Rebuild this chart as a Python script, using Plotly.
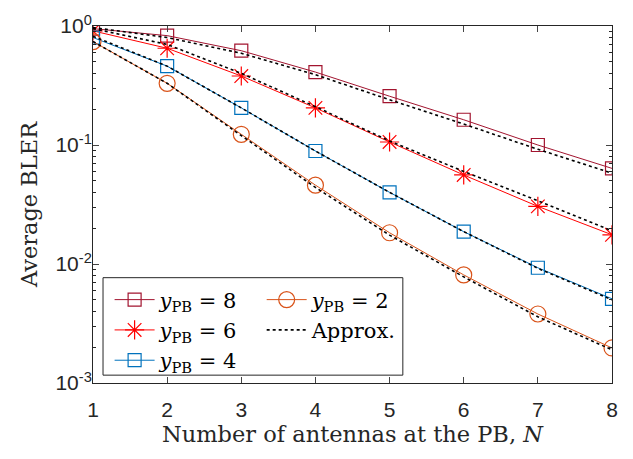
import plotly.graph_objects as go

N = [1, 2, 3, 4, 5, 6, 7, 8]
bler_y8 = [0.95, 0.83, 0.62, 0.41, 0.257, 0.163, 0.100, 0.0636]
bler_y6 = [0.91, 0.65, 0.38, 0.205, 0.106, 0.056, 0.0305, 0.0176]
bler_y4 = [0.80, 0.46, 0.205, 0.089, 0.040, 0.0187, 0.0093, 0.0051]
bler_y2 = [0.74, 0.33, 0.123, 0.046, 0.0183, 0.0081, 0.0038, 0.00197]
approx_y8 = [0.97, 0.80, 0.59, 0.39, 0.24, 0.150, 0.092, 0.058]
approx_y6 = [0.95, 0.70, 0.40, 0.21, 0.108, 0.060, 0.034, 0.019]
approx_y4 = [0.82, 0.46, 0.205, 0.089, 0.040, 0.0187, 0.0092, 0.0050]
approx_y2 = [0.74, 0.33, 0.120, 0.044, 0.0175, 0.0078, 0.0036, 0.0019]

ytick_vals = [1, 0.1, 0.01, 0.001]
ytick_text = ["10<sup>0</sup>", "10<sup>-1</sup>", "10<sup>-2</sup>", "10<sup>-3</sup>"]
minor_vals = [m * 10 ** e for e in (-3, -2, -1) for m in range(2, 10)]

C8, C6, C4, C2 = "#A2142F", "#FF0000", "#0072BD", "#D95319"
lab = lambda v: "<i>y</i><sub>PB</sub> = %d" % v

fig = go.Figure()
sty = dict(mode="lines+markers")
fig.add_trace(go.Scatter(x=N, y=bler_y8, name=lab(8), line=dict(color=C8, width=1),
                         marker=dict(symbol="square-open", size=13, color=C8, line=dict(width=1.2)),
                         legend="legend", **sty))
fig.add_trace(go.Scatter(x=N, y=bler_y6, name=lab(6), line=dict(color=C6, width=1),
                         marker=dict(symbol="asterisk-open", size=16, color=C6, line=dict(width=1.2, color=C6)),
                         legend="legend", **sty))
fig.add_trace(go.Scatter(x=N, y=bler_y4, name=lab(4), line=dict(color=C4, width=1),
                         marker=dict(symbol="square-open", size=13, color=C4, line=dict(width=1.2)),
                         legend="legend", **sty))
fig.add_trace(go.Scatter(x=N, y=bler_y2, name=lab(2), line=dict(color=C2, width=1),
                         marker=dict(symbol="circle-open", size=16, color=C2, line=dict(width=1.2)),
                         legend="legend2", **sty))
for i, a in enumerate([approx_y8, approx_y6, approx_y4, approx_y2]):
    fig.add_trace(go.Scatter(x=N, y=a, mode="lines", name="Approx.",
                             line=dict(color="black", width=1.6, dash="dot"),
                             showlegend=(i == 0), legend="legend2"))

axcol = "#262626"
fig.update_xaxes(range=[1, 8], tickvals=N, ticks="inside", ticklen=6, mirror="ticks",
                 showline=True, linecolor=axcol, linewidth=1, showgrid=False, zeroline=False,
                 ticklabelstandoff=8,
                 tickfont=dict(family="Liberation Sans", size=21, color=axcol),
                 title=dict(text="Number of antennas at the PB, <i>N</i>",
                            font=dict(family="DejaVu Serif", size=22.5, color=axcol), standoff=2))
fig.update_yaxes(type="log", range=[-3, 0], tickvals=ytick_vals, ticktext=ytick_text,
                 ticks="inside", ticklen=6, mirror="ticks",
                 minor=dict(tickvals=minor_vals, ticks="inside", ticklen=3, tickcolor=axcol),
                 showline=True, linecolor=axcol, linewidth=1, showgrid=False, zeroline=False,
                 ticklabelstandoff=-4,
                 tickfont=dict(family="Liberation Sans", size=21, color=axcol),
                 title=dict(text="Average BLER", font=dict(family="DejaVu Serif", size=22.5, color=axcol),
                            standoff=11))

legfont = dict(family="DejaVu Serif", size=21, color="black")
fig.update_layout(
    width=633, height=459, margin=dict(l=93, r=21, t=17, b=76),
    plot_bgcolor="white", paper_bgcolor="white",
    legend=dict(x=0.032, y=0.29, xanchor="left", yanchor="top", bgcolor="rgba(0,0,0,0)",
                font=legfont, tracegroupgap=0, itemwidth=40),
    legend2=dict(x=0.325, y=0.29, xanchor="left", yanchor="top", bgcolor="rgba(0,0,0,0)",
                 font=legfont, tracegroupgap=0, itemwidth=40),
    shapes=[dict(type="rect", xref="paper", yref="paper", x0=0.0193, x1=0.597, y0=0.022, y1=0.295,
                 line=dict(color=axcol, width=1), fillcolor="white", layer="below")],
)
fig.write_html("out.html")
